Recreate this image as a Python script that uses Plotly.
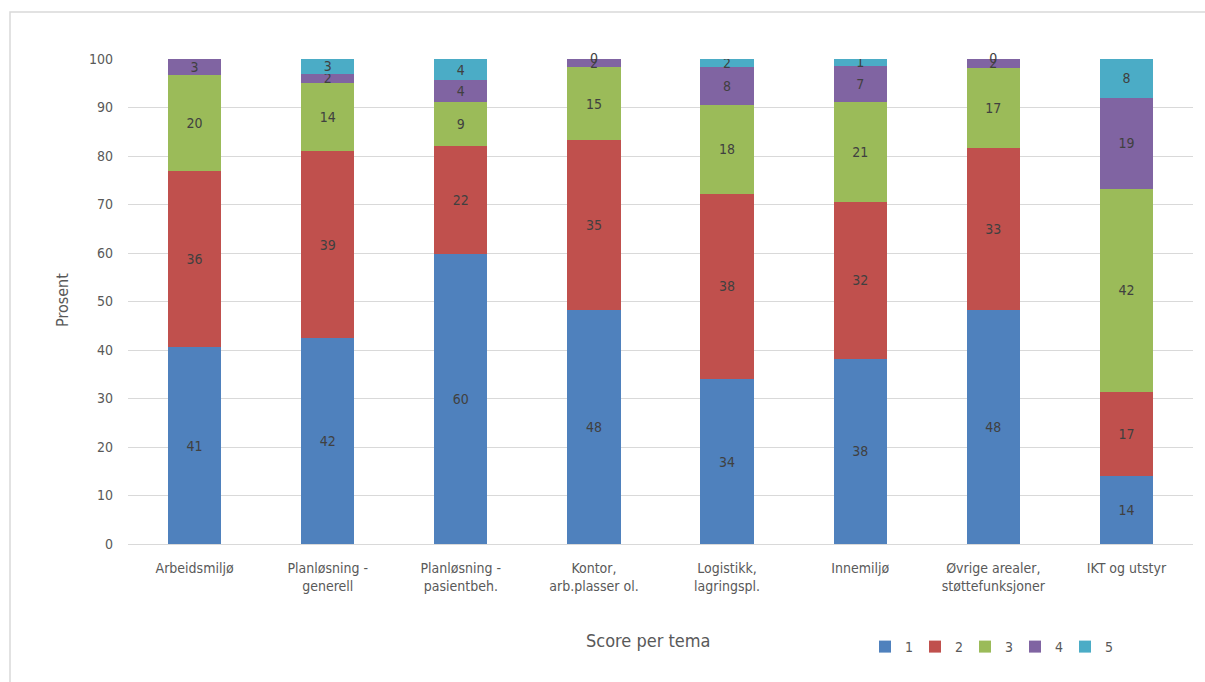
import plotly.graph_objects as go

categories = ["Arbeidsmiljø", "Planløsning -<br>generell", "Planløsning -<br>pasientbeh.",
              "Kontor,<br>arb.plasser ol.", "Logistikk,<br>lagringspl.", "Innemiljø",
              "Øvrige arealer,<br>støttefunksjoner", "IKT og utstyr"]
score1 = [40.6, 42.4, 59.8, 48.3, 34.0, 38.2, 48.2, 14.0]
score2 = [36.4, 38.6, 22.3, 34.9, 38.2, 32.4, 33.4, 17.4]
score3 = [19.8, 14.0, 9.1, 15.2, 18.4, 20.6, 16.6, 41.9]
score4 = [3.2, 2.0, 4.4, 1.6, 7.8, 7.4, 1.8, 18.7]
score5 = [None, 3.0, 4.4, 0.0, 1.6, 1.4, 0.0, 8.0]
series_names = ["1", "2", "3", "4", "5"]
colors = ["#4F81BD", "#C0504D", "#9BBB59", "#8064A2", "#4BACC6"]
y_ticks = [0, 10, 20, 30, 40, 50, 60, 70, 80, 90, 100]

FONT = "DejaVu Sans Condensed, Liberation Sans Narrow, Liberation Sans, sans-serif"
all_series = [score1, score2, score3, score4, score5]

fig = go.Figure()
for name, vals, col in zip(series_names, all_series, colors):
    fig.add_trace(go.Bar(
        x=categories, y=vals, name=name,
        marker=dict(color=col, line=dict(width=0)),
        text=[("" if v is None else f"{round(v):d}") for v in vals],
        textposition="inside", insidetextanchor="middle", textangle=0,
        constraintext="none",
        textfont=dict(family=FONT, size=14, color="#404040"),
    ))

# labels for zero-valued segments of series 5 (drawn at the top of the stack)
zero_x, zero_y = [], []
for i, v in enumerate(score5):
    if v == 0:
        zero_x.append(categories[i])
        zero_y.append(sum((s[i] or 0) for s in all_series))
fig.add_trace(go.Scatter(x=zero_x, y=zero_y, mode="text", text=["0"] * len(zero_x),
                         textposition="middle center", showlegend=False, hoverinfo="skip",
                         textfont=dict(family=FONT, size=14, color="#404040"), cliponaxis=False))

fig.update_layout(
    barmode="stack", bargap=0.6,
    width=1205, height=682,
    margin=dict(l=128, r=12, t=59, b=138, autoexpand=False),
    paper_bgcolor="white", plot_bgcolor="white",
    font=dict(family=FONT, size=14, color="#595959"),
    uniformtext=dict(minsize=14, mode="show"),
    showlegend=True,
    legend=dict(orientation="h", x=(865 - 128) / 1065, xanchor="left", y=(544 - 647) / 485,
                yanchor="middle", font=dict(size=14, color="#595959"), traceorder="normal",
                itemwidth=30, entrywidthmode="pixels", entrywidth=5, bgcolor="rgba(0,0,0,0)"),
    yaxis=dict(range=[0, 100], tickvals=y_ticks, showgrid=True, gridcolor="#D9D9D9",
               gridwidth=1, zeroline=False, showline=False, ticks="",
               tickfont=dict(size=14, color="#595959"), ticklabelstandoff=14),
    xaxis=dict(showgrid=False, showline=True, linecolor="#D9D9D9", linewidth=1, ticks="",
               tickfont=dict(size=14, color="#595959"), ticklabelstandoff=11),
)

fig.add_annotation(text="Prosent", xref="paper", yref="paper", x=(62 - 128) / 1065, y=(544 - 300) / 485,
                   textangle=-90, showarrow=False, font=dict(size=16, color="#595959"),
                   xanchor="center", yanchor="middle")
fig.add_annotation(text="Score per tema", xref="paper", yref="paper", x=(648 - 128) / 1065,
                   y=(544 - 640) / 485, showarrow=False, font=dict(size=18, color="#595959"),
                   xanchor="center", yanchor="middle")
fig.add_shape(type="rect", xref="paper", yref="paper", x0=(10 - 128) / 1065, x1=1.1,
              y0=-0.5, y1=1 + (59 - 12) / 485, line=dict(color="#D9D9D9", width=1.5),
              fillcolor="rgba(0,0,0,0)", layer="below")

fig.write_html("out.html")
